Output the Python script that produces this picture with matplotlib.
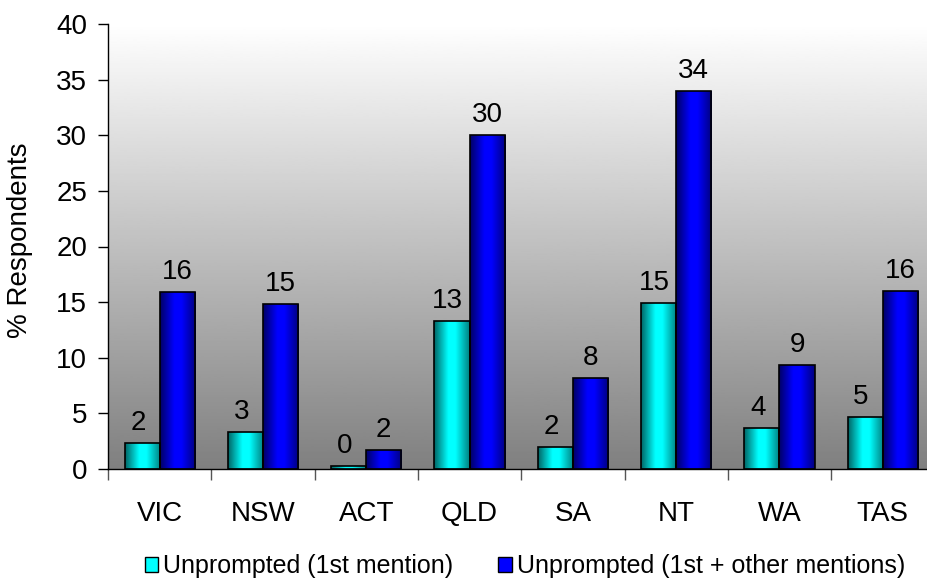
import numpy as np
import matplotlib.pyplot as plt
from matplotlib.patches import Patch

plt.rcParams['font.family'] = ['Liberation Sans', 'DejaVu Sans']

states = ["VIC", "NSW", "ACT", "QLD", "SA", "NT", "WA", "TAS"]
first_mention = [2.3, 3.35, 0.3, 13.3, 2.0, 14.95, 3.7, 4.7]
all_mentions = [15.9, 14.8, 1.7, 30.0, 8.2, 34.0, 9.35, 16.0]
first_labels = [2, 3, 0, 13, 2, 15, 4, 5]
all_labels = [16, 15, 2, 30, 8, 34, 9, 16]
series_names = ["Unprompted (1st mention)", "Unprompted (1st + other mentions)"]
series_colors = ["#00ffff", "#0000ff"]

fig = plt.figure(figsize=(9.27, 5.81), dpi=100)
# plot area runs past the right edge of the figure
ax = fig.add_axes([108 / 927, 1 - 469 / 581, 826.4 / 927, 445 / 581])
ax.set_xlim(-0.5, len(states) - 0.5)
ax.set_ylim(0, 40)

# vertical white -> grey background
bg = np.linspace(0.5, 1.0, 256).reshape(-1, 1)
ax.imshow(bg, cmap="gray", vmin=0, vmax=1, aspect="auto", origin="lower",
          extent=(-0.5, len(states) - 0.5, 0, 40), zorder=0)


def shaded_cmap(rgb):
    # dark edges, bright centre, like a metallic bar fill
    t = np.linspace(0, 1, 64)
    prof = np.interp(t, [0, 0.4, 0.6, 1.0], [0.4, 1.0, 1.0, 0.5])
    return np.array(rgb)[None, None, :] * prof[None, :, None]


w = 0.34
x = np.arange(len(states))
for vals, labels, color, off, nudge in [(first_mention, first_labels, (0, 1, 1), -w / 2, -3),
                                        (all_mentions, all_labels, (0, 0, 1), w / 2, 0)]:
    bars = ax.bar(x + off, vals, width=w, color="none", edgecolor="black",
                  linewidth=1.2, zorder=3)
    grad = shaded_cmap(color)
    for b, v, lab in zip(bars, vals, labels):
        x0 = b.get_x()
        im = ax.imshow(grad, aspect="auto", extent=(x0, x0 + w, 0, v), zorder=2)
        im.set_clip_path(b)
        ax.annotate(str(lab), (x0 + w / 2, v), xytext=(nudge, 5), textcoords="offset points",
                    ha="center", va="bottom", fontsize=20)

ax.set_xlim(-0.5, len(states) - 0.5)
ax.set_ylim(0, 40)

for s in ["top", "right"]:
    ax.spines[s].set_visible(False)
ax.spines["left"].set_linewidth(1.0)
ax.spines["bottom"].set_linewidth(1.0)

ax.set_yticks(np.arange(0, 41, 5))
ax.tick_params(axis="y", labelsize=20, length=7, width=1, pad=8)
ax.set_ylabel("% Respondents", fontsize=20)
ax.yaxis.set_label_coords(-75 / 826.4, 0.515)

# ticks between categories, labels at category centres
ax.set_xticks(np.arange(-0.5, len(states), 1.0))
ax.set_xticklabels([])
ax.set_xticks(x, minor=True)
ax.set_xticklabels(states, minor=True, fontsize=20)
ax.tick_params(axis="x", which="major", length=8, width=1, color="#555555")
ax.tick_params(axis="x", which="minor", length=0, pad=23)

handles = [Patch(facecolor=c, edgecolor="black", linewidth=1) for c in series_colors]
fig.legend(handles, series_names, loc="center", bbox_to_anchor=(525 / 927, 1 - 566 / 581),
           ncol=2, frameon=False, fontsize=18, handlelength=0.55, handleheight=0.55,
           handletextpad=0.2, columnspacing=1.8, borderpad=0, borderaxespad=0)

fig.savefig("out.png", dpi=100)
